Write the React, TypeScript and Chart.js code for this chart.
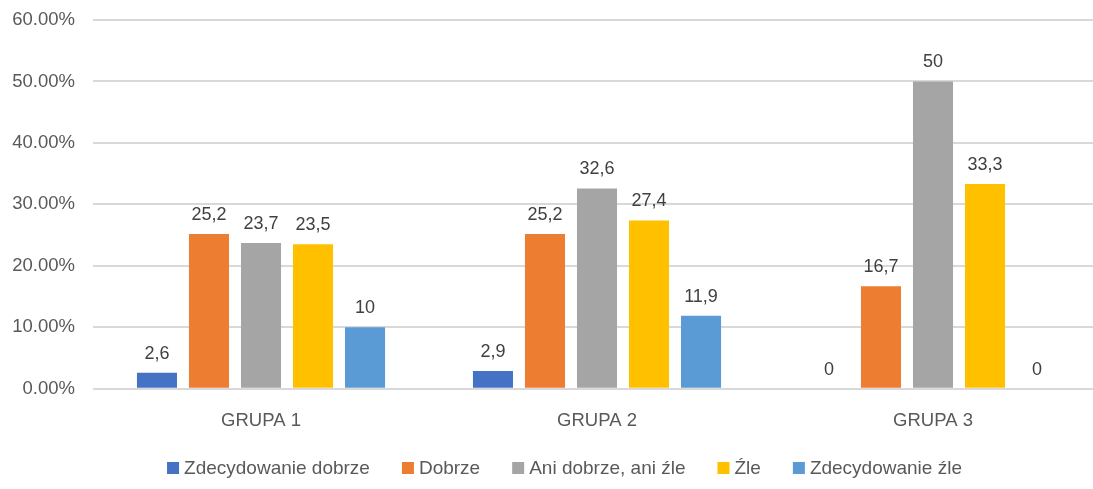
import React, { useEffect, useRef } from "react";
import { Chart, registerables } from "chart.js";

Chart.register(...registerables);

const categories = ["GRUPA 1", "GRUPA 2", "GRUPA 3"];
const seriesNames = ["Zdecydowanie dobrze", "Dobrze", "Ani dobrze, ani źle", "Źle", "Zdecydowanie źle"];
const zdecydowanieDobrze = [2.6, 2.9, 0];
const dobrze = [25.2, 25.2, 16.7];
const aniDobrzeAniZle = [23.7, 32.6, 50];
const zle = [23.5, 27.4, 33.3];
const zdecydowanieZle = [10, 11.9, 0];
const seriesColors = ["#4472C4", "#ED7D31", "#A5A5A5", "#FFC000", "#5B9BD5"];
const yTicks = [0, 10, 20, 30, 40, 50, 60];

const FONT = "'Liberation Sans', 'DejaVu Sans', sans-serif";
const VIEW_W = 1093;
const CANVAS_W = 1101;
const CANVAS_H = 489;

const dataLabelPlugin = {
  id: "dataLabels",
  afterDatasetsDraw(chart: any) {
    const ctx = chart.ctx;
    ctx.save();
    ctx.font = `18px ${FONT}`;
    ctx.fillStyle = "#404040";
    ctx.textAlign = "center";
    ctx.textBaseline = "bottom";
    chart.data.datasets.forEach((ds: any, i: number) => {
      const meta = chart.getDatasetMeta(i);
      meta.data.forEach((bar: any, j: number) => {
        const v = ds.data[j];
        const txt = String(v).replace(".", ",");
        ctx.fillText(txt, bar.x, bar.y - 10);
      });
    });
    ctx.restore();
  },
};

const bottomLegendPlugin = {
  id: "bottomLegend",
  afterDraw(chart: any) {
    const ctx = chart.ctx;
    ctx.save();
    ctx.font = `19px ${FONT}`;
    ctx.textBaseline = "middle";
    ctx.textAlign = "left";
    const box = 12;
    const gap = 5;
    const itemGap = 32;
    const items = chart.data.datasets.map((ds: any) => ({
      label: ds.label,
      color: ds.backgroundColor,
      w: box + gap + ctx.measureText(ds.label).width,
    }));
    const total = items.reduce((s: number, it: any) => s + it.w, 0) + itemGap * (items.length - 1);
    let x = VIEW_W / 2 + 18 - total / 2;
    const y = chart.height - 21;
    items.forEach((it: any) => {
      ctx.fillStyle = it.color;
      ctx.fillRect(x, y - box / 2, box, box);
      ctx.fillStyle = "#595959";
      ctx.fillText(it.label, x + box + gap, y + 1);
      x += it.w + itemGap;
    });
    ctx.restore();
  },
};

export default function App() {
  const ref = useRef<HTMLCanvasElement>(null);
  useEffect(() => {
    if (!ref.current) return;
    const allSeries = [zdecydowanieDobrze, dobrze, aniDobrzeAniZle, zle, zdecydowanieZle];
    const chart = new Chart(ref.current, {
      type: "bar",
      data: {
        labels: categories,
        datasets: allSeries.map((d, i) => ({
          label: seriesNames[i],
          data: d,
          backgroundColor: seriesColors[i],
          borderWidth: 0,
          categoryPercentage: 0.774,
          barPercentage: 0.77,
        })),
      },
      options: {
        responsive: false,
        animation: false,
        layout: { padding: { top: 20, right: 0, left: 8, bottom: 36 } },
        plugins: {
          legend: { display: false },
          tooltip: { enabled: false },
        },
        scales: {
          x: {
            grid: { display: false, drawTicks: false },
            border: { display: false },
            ticks: { font: { family: FONT, size: 18.5 }, color: "#595959", padding: 21 },
          },
          y: {
            min: 0,
            max: 60,
            afterBuildTicks: (axis: any) => {
              axis.ticks = yTicks.map((v) => ({ value: v }));
            },
            afterFit: (axis: any) => {
              axis.width = 85;
              axis.paddingTop = 0;
              axis.paddingBottom = 0;
            },
            grid: { color: "#D9D9D9", lineWidth: 2, drawTicks: false },
            border: { display: false },
            ticks: {
              font: { family: FONT, size: 18.5 },
              color: "#595959",
              padding: 18,
              callback: (v: any) => Number(v).toFixed(2) + "%",
            },
          },
        },
      },
      plugins: [dataLabelPlugin, bottomLegendPlugin],
    });
    return () => chart.destroy();
  }, []);
  return (
    <div style={{ position: "absolute", left: 0, top: 0, width: VIEW_W, height: CANVAS_H, background: "#fff", overflow: "hidden" }}>
      <canvas ref={ref} width={CANVAS_W} height={CANVAS_H} />
    </div>
  );
}
